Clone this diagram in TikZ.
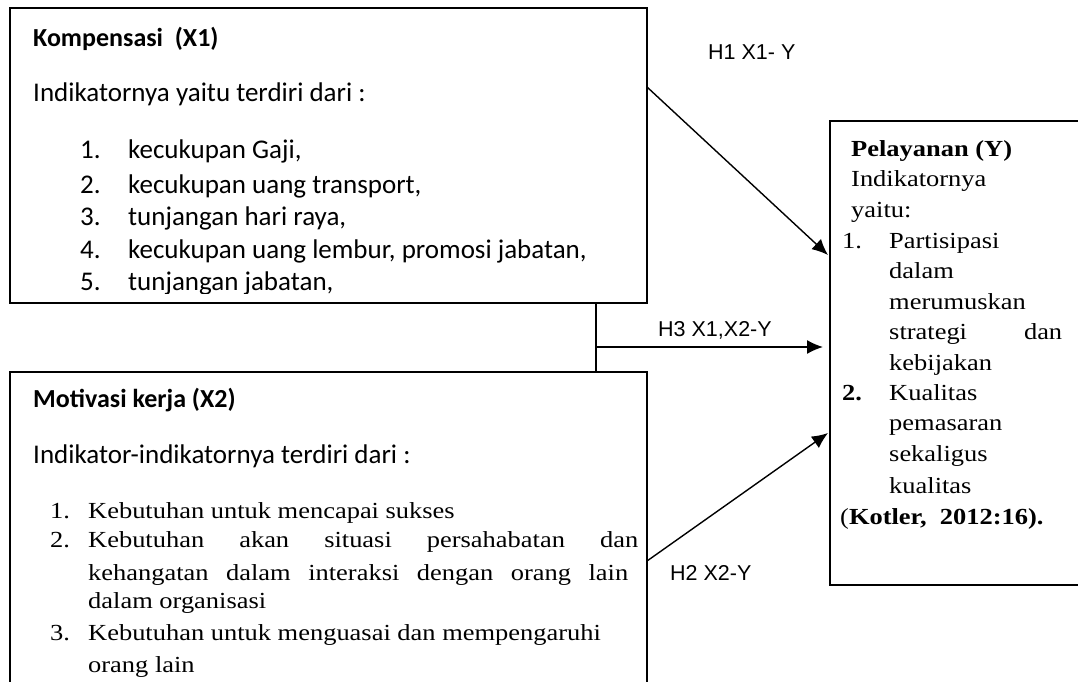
\documentclass[tikz,border=0pt]{standalone}
\usepackage{fontspec}
\usetikzlibrary{arrows.meta,calc}
\newfontfamily\carl{Carlito}
\newfontfamily\tnr{Liberation Serif}[FakeStretch=1.15]
\newfontfamily\lsans{Liberation Sans}
\tikzset{
  box/.style={draw, line width=1.6pt, inner sep=0pt, outer sep=0pt, anchor=north west},
  conn/.style={line width=1.4pt},
  arr/.style={conn, -{Latex[length=16pt,width=14pt]}},
  ct/.style={anchor=base west, inner sep=0pt, font=\carl\fontsize{27}{30}\selectfont},
  cb/.style={ct, font=\carl\bfseries\fontsize{26}{30}\selectfont},
  st/.style={anchor=base west, inner sep=0pt, font=\tnr\fontsize{23}{30}\selectfont},
  sb/.style={st, font=\tnr\bfseries\fontsize{23}{30}\selectfont},
  lab/.style={anchor=base west, inner sep=0pt, font=\lsans\fontsize{21.5}{24}\selectfont},
}
\begin{document}
\begin{tikzpicture}[x=1pt,y=-1pt]
\useasboundingbox (0,0) rectangle (1078,682);
\clip (0,0) rectangle (1078,682);
% boxes
\node[box, minimum width=637pt, minimum height=295pt] (x1) at (10,8) {};
\node[box, minimum width=637pt, minimum height=340pt] (x2) at (10,372) {};
\node[box, minimum width=270pt, minimum height=464pt] (y) at (830,121) {};
% connectors
\draw[arr] ([yshift=-79pt]x1.north east) -- ([yshift=-134pt, xshift=-2pt]y.north west);
\draw[conn] ([xshift=586pt]x1.south west) -- ([xshift=586pt]x2.north west);
\coordinate (j) at (596,347);
\draw[arr, shorten >=7pt] (j) -- (j -| y.west);
\draw[arr] ([yshift=-189pt]x2.north east) -- ([yshift=-312pt, xshift=-2pt]y.north west);
% labels
\node[lab] (h1) at (708,60) {H1 X1- Y};
\node[lab] (h3) at (658,336) {H3 X1,X2-Y};
\node[lab] (h2) at (670,580) {H2 X2-Y};
% X1 text
\begin{scope}
\clip (10,8) rectangle (647,293);
\node[cb] (a0) at (33,47) {Kompensasi\ \ (X1)};
\node[ct] (a1) at (33,102) {Indikatornya yaitu terdiri dari :};
\node[ct] (n1) at (80,158) {1.};
\node[ct] (n2) at (80,193) {2.};
\node[ct] (n3) at (80,225) {3.};
\node[ct] (n4) at (80,258) {4.};
\node[ct] (n5) at (80,290) {5.};
\node[ct] (i1) at (128,158) {kecukupan Gaji,};
\node[ct] (i2) at (128,193) {kecukupan uang transport,};
\node[ct] (i3) at (128,225) {tunjangan hari raya,};
\node[ct] (i4) at (128,258) {kecukupan uang lembur, promosi jabatan,};
\node[ct] (i5) at (128,290) {tunjangan jabatan,};
\end{scope}
% X2 text
\node[cb] (b0) at (33,407) {Motivasi kerja (X2)};
\node[ct] (b1) at (33,463) {Indikator-indikatornya terdiri dari :};
\node[st] (m1) at (50,518) {1.};
\node[st] (m2) at (50,547) {2.};
\node[st] (m3) at (50,640) {3.};
\node[st] (k1) at (88,518) {Kebutuhan untuk mencapai sukses};
\node[st] (k2) at (88,547) {\makebox[550pt][s]{Kebutuhan akan situasi persahabatan dan}};
\node[st] (k3) at (88,580) {\makebox[540pt][s]{kehangatan dalam interaksi dengan orang lain}};
\node[st] (k4) at (88,608) {dalam organisasi};
\node[st] (k5) at (88,640) {Kebutuhan untuk menguasai dan mempengaruhi};
\node[st] (k6) at (88,672) {orang lain};
% Y text
\node[sb] (c0) at (851,157) {Pelayanan\ (Y)};
\node[st] (c1) at (851,186) {Indikatornya};
\node[st] (c2) at (851,217) {yaitu:};
\node[st] (p1) at (842,248) {1.};
\node[st] (q1) at (889,248) {Partisipasi};
\node[st] (q2) at (889,278) {dalam};
\node[st] (q3) at (889,309) {merumuskan};
\node[st] (q4) at (889,339) {\makebox[173pt][s]{strategi dan}};
\node[st] (q5) at (889,370) {kebijakan};
\node[sb] (p2) at (842,400) {2.};
\node[st] (q6) at (889,400) {Kualitas};
\node[st] (q7) at (889,430) {pemasaran};
\node[st] (q8) at (889,461) {sekaligus};
\node[st] (q9) at (889,493) {kualitas};
\node[st] (c3) at (840,524) {(\bfseries Kotler,\ \ 2012:16).};
\end{tikzpicture}
\end{document}
